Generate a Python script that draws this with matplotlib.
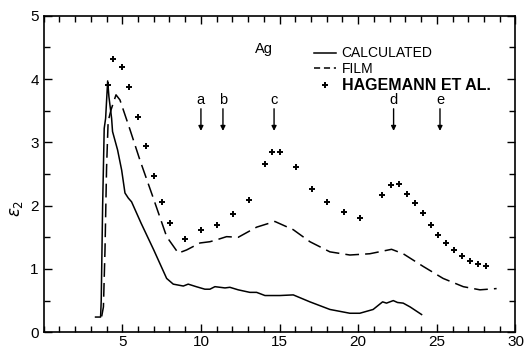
import matplotlib
matplotlib.use("Agg")
import matplotlib.pyplot as plt
from matplotlib.lines import Line2D

plt.rcParams['font.family'] = ['Liberation Sans', 'DejaVu Sans']

# calculated eps2 (solid)
calc_x = [3.3, 3.62, 3.66, 3.75, 3.85, 3.94, 4.07, 4.15, 4.32, 4.38, 4.7, 4.96, 5.17, 5.38, 5.59,
          6.2, 7.0, 7.82, 8.24, 8.88, 9.19, 9.7, 10.25, 10.57, 10.89, 11.53, 11.84, 12.37,
          13.11, 13.54, 14.07, 15.02, 15.87, 16.93, 18.2, 19.47, 20.1, 20.95, 21.55, 21.8,
          22.23, 22.5, 22.86, 23.3, 24.03]
calc_y = [0.24, 0.24, 0.5, 2.0, 3.22, 3.38, 3.97, 3.72, 3.38, 3.17, 2.88, 2.56, 2.2, 2.12, 2.06,
          1.72, 1.3, 0.85, 0.76, 0.73, 0.76, 0.72, 0.68, 0.68, 0.72, 0.70, 0.71, 0.67,
          0.63, 0.63, 0.58, 0.58, 0.59, 0.48, 0.36, 0.30, 0.30, 0.36, 0.48, 0.46,
          0.50, 0.47, 0.46, 0.40, 0.28]

# film (dashed)
film_x = [3.69, 3.8, 3.9, 4.0, 4.1, 4.28, 4.6, 4.85, 5.49, 6.12, 6.97, 7.82, 8.56, 9.09, 9.94,
          10.57, 11.0, 11.63, 12.37, 13.54, 14.7, 15.87, 16.93, 18.2, 19.47, 20.74, 22.12,
          22.86, 24.13, 25.4, 26.68, 27.74, 28.8]
film_y = [0.25, 0.4, 1.3, 2.6, 3.33, 3.51, 3.75, 3.67, 3.2, 2.72, 2.12, 1.51, 1.25, 1.30, 1.41,
          1.43, 1.46, 1.51, 1.50, 1.66, 1.75, 1.62, 1.43, 1.27, 1.22, 1.24, 1.31,
          1.24, 1.04, 0.85, 0.72, 0.67, 0.69]

# Hagemann et al. (crosses)
hag_x = [4.1, 4.42, 4.96, 5.44, 5.97, 6.5, 7.03, 7.52, 8.03, 9.0, 10.02, 11.04, 12.01, 13.03,
         14.05, 14.49, 15.02, 16.06, 17.06, 18.03, 19.07, 20.1, 21.52, 22.06, 22.6, 23.1,
         23.6, 24.1, 24.6, 25.1, 25.6, 26.1, 26.6, 27.1, 27.6, 28.1]
hag_y = [3.9, 4.31, 4.19, 3.88, 3.40, 2.94, 2.47, 2.06, 1.73, 1.48, 1.62, 1.70, 1.86, 2.09,
         2.66, 2.85, 2.84, 2.61, 2.27, 2.05, 1.90, 1.81, 2.17, 2.33, 2.34, 2.18,
         2.04, 1.88, 1.70, 1.54, 1.41, 1.30, 1.21, 1.13, 1.08, 1.04]

arrow_labels = ['a', 'b', 'c', 'd', 'e']
arrow_x = [10.0, 11.4, 14.65, 22.25, 25.2]

fig = plt.figure(figsize=(5.26, 3.49), dpi=100)
ax = fig.add_axes([0.083, 0.048, 0.897, 0.907])

ax.plot(calc_x, calc_y, color='black', lw=1.1)
ax.plot(film_x, film_y, color='black', lw=1.1, dashes=(9, 4))
ax.plot(hag_x, hag_y, ls='none', marker='+', ms=5, mew=1.4, color='black')

for lab, xa in zip(arrow_labels, arrow_x):
    ax.annotate('', xy=(xa, 3.18), xytext=(xa, 3.53),
                arrowprops=dict(arrowstyle='-|>', color='black', lw=1.0,
                                mutation_scale=7, shrinkA=0, shrinkB=0))
    ax.text(xa, 3.67, lab, ha='center', va='center', fontsize=10.5)

ax.text(14.0, 4.48, 'Ag', ha='center', va='center', fontsize=10.5)

handles = [Line2D([], [], color='black', lw=1.1),
           Line2D([], [], color='black', lw=1.1, dashes=(4, 2.5)),
           Line2D([], [], ls='none', marker='+', ms=5, mew=1.4, color='black')]
leg = ax.legend(handles, ['CALCULATED', 'FILM', 'HAGEMANN ET AL.'],
                loc='upper left', bbox_to_anchor=(0.558, 0.925), frameon=False,
                fontsize=10, handlelength=1.6, handletextpad=0.4,
                labelspacing=0.12, borderpad=0)
leg.get_texts()[2].set_fontweight('bold')
leg.get_texts()[2].set_fontsize(11.5)

ax.set_xlim(0, 30)
ax.set_ylim(0, 5)
ax.set_xticks([5, 10, 15, 20, 25, 30])
ax.set_xticks(range(0, 31), minor=True)
ax.set_yticks([0, 1, 2, 3, 4, 5])
ax.set_yticks([i * 0.5 for i in range(11)], minor=True)
ax.tick_params(which='both', direction='in', top=True, right=True, labelsize=11)
ax.tick_params(axis='x', pad=2)
ax.tick_params(which='major', length=6, width=1)
ax.tick_params(which='minor', length=4, width=1)
for s in ax.spines.values():
    s.set_linewidth(1.2)
ax.set_ylabel(r'$\epsilon_2$', fontsize=12)
ax.yaxis.set_label_coords(-0.04, 0.39)

fig.savefig('out.png', dpi=100)
